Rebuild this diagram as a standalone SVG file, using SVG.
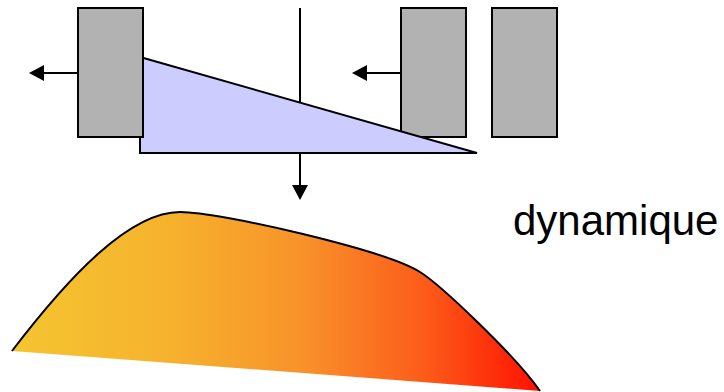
<svg xmlns="http://www.w3.org/2000/svg" width="724" height="392" viewBox="0 0 724 392">
  <style>
    .block { fill: #B2B2B2; stroke: #000; stroke-width: 2; }
    .wedge { fill: #CCCCFF; stroke: #000; stroke-width: 2; stroke-linejoin: miter; }
    .conn { stroke: #000; stroke-width: 2; fill: none; }
    .label { font-family: "Liberation Sans", Arial, sans-serif; font-size: 42px; fill: #000; }
  </style>
  <defs>
    <marker id="ah" viewBox="0 0 15 16" refX="0" refY="8" markerWidth="15" markerHeight="16" orient="auto" markerUnits="userSpaceOnUse">
      <path d="M0,0 L15,8 L0,16 Z" fill="#000"/>
    </marker>
    <linearGradient id="heat" gradientUnits="userSpaceOnUse" x1="12" y1="0" x2="540" y2="0">
      <stop offset="0" stop-color="#F4C531"/>
      <stop offset="0.3" stop-color="#F6B22D"/>
      <stop offset="0.55" stop-color="#F8922A"/>
      <stop offset="0.78" stop-color="#FC5C1A"/>
      <stop offset="1" stop-color="#FF1200"/>
    </linearGradient>
  </defs>

  <g id="connectors">
    <line class="conn" x1="300" y1="8" x2="300" y2="185" marker-end="url(#ah)"/>
    <line class="conn" x1="78" y1="73" x2="44" y2="73" marker-end="url(#ah)"/>
    <line class="conn" x1="401" y1="73" x2="367" y2="73" marker-end="url(#ah)"/>
  </g>

  <g id="block-right-1">
    <rect class="block" x="401" y="8" width="65" height="129"/>
  </g>
  <g id="wedge">
    <polygon class="wedge" points="140,57 477,153 140,153"/>
  </g>
  <g id="block-left">
    <rect class="block" x="78" y="8" width="65" height="129"/>
  </g>
  <g id="block-right-2">
    <rect class="block" x="492" y="8" width="65" height="129"/>
  </g>

  <g id="profile">
    <path d="M12,351 C70,275 130,212 180,212 C220,212 385,250 420,272 C440,284.5 515,355 540,391 Z" fill="url(#heat)" stroke="none"/>
    <path d="M12,351 C70,275 130,212 180,212 C220,212 385,250 420,272 C440,284.5 515,355 540,391" fill="none" stroke="#000" stroke-width="2"/>
  </g>

  <g id="label-dynamique">
    <text class="label" x="513" y="235">dynamique</text>
  </g>
</svg>
